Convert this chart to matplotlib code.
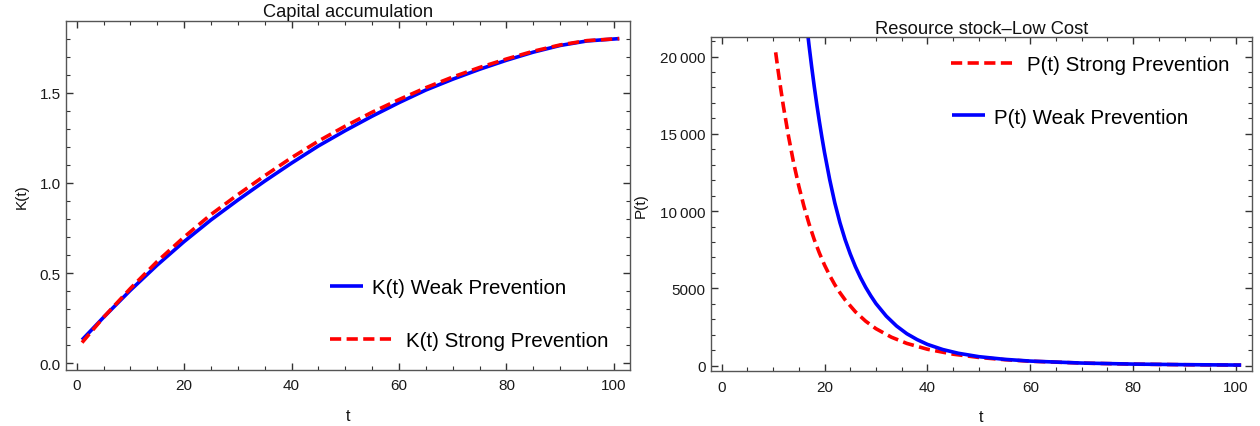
import matplotlib
matplotlib.use("Agg")
import matplotlib.pyplot as plt
from matplotlib.ticker import MultipleLocator, FixedLocator, FixedFormatter

plt.rcParams['font.family'] = ['Liberation Sans', 'DejaVu Sans']

# ---------------- data ----------------
t_capital = [1, 5, 10, 15, 20, 25, 30, 35, 40, 45, 50, 55, 60, 65, 70, 75, 80, 85, 90, 95, 101]
k_weak = [0.13, 0.255, 0.405, 0.545, 0.675, 0.795, 0.905, 1.01, 1.11, 1.205, 1.29, 1.37,
          1.445, 1.515, 1.575, 1.63, 1.68, 1.725, 1.762, 1.787, 1.80]
k_strong = [0.115, 0.255, 0.415, 0.565, 0.70, 0.825, 0.935, 1.04, 1.14, 1.232, 1.315, 1.392,
            1.462, 1.528, 1.587, 1.64, 1.687, 1.73, 1.765, 1.789, 1.80]

t_strong = [10.5, 11, 11.5, 12, 13, 14, 15, 16, 17, 18, 19, 20, 21, 22, 23, 24, 26, 28, 30,
            33, 36, 40, 45, 50, 55, 60, 70, 80, 90, 101]
p_strong = [20270, 19040, 17890, 16790, 14840, 13110, 11620, 10310, 9170, 8160, 7290, 6510,
            5840, 5240, 4720, 4260, 3490, 2880, 2395, 1845, 1443, 1065, 746, 534, 390, 290,
            169, 102, 64, 39]

t_weak = [16, 16.5, 17, 17.5, 18, 18.5, 19, 19.5, 20, 21, 22, 23, 24, 25, 26, 27, 28, 29, 30,
          32, 34, 36, 38, 40, 43, 46, 50, 55, 60, 70, 80, 90, 101]
p_weak = [23700, 22150, 20690, 19340, 18070, 16890, 15790, 14760, 13790, 12050, 10530, 9250,
          8160, 7230, 6410, 5700, 5070, 4520, 4020, 3210, 2570, 2070, 1690, 1380, 1045, 805,
          585, 412, 299, 172, 105, 67, 42]

x_ticks = [0, 20, 40, 60, 80, 100]
k_ticks = [0.0, 0.5, 1.0, 1.5]
k_tick_labels = ["0.0", "0.5", "1.0", "1.5"]
p_ticks = [0, 5000, 10000, 15000, 20000]
p_tick_labels = ["0", "5000", "10\u2009000", "15\u2009000", "20\u2009000"]

# ---------------- style ----------------
BLUE = "#0000FF"
RED = "#FF0000"
LW = 2.6
DASH = (3.1, 1.5)
SPINE = "#555555"
LEG_FS = 14.8

fig = plt.figure(figsize=(12.6, 4.27), dpi=100)
ax1 = fig.add_axes([0.0521, 0.1311, 0.4479, 0.8167])
ax2 = fig.add_axes([0.564, 0.1281, 0.4294, 0.7822])


def style_axes(ax):
    for s in ax.spines.values():
        s.set_color(SPINE)
        s.set_linewidth(1.0)
    ax.tick_params(which='both', direction='in', top=True, right=True, colors='#333333',
                   labelsize=11, labelcolor='#1a1a1a')
    ax.tick_params(which='major', length=5, width=1.0)
    ax.tick_params(which='minor', length=3, width=0.8)
    ax.tick_params(axis='x', which='major', pad=6)
    ax.tick_params(axis='y', which='major', pad=3.5)
    ax.xaxis.set_major_locator(FixedLocator(x_ticks))
    ax.xaxis.set_minor_locator(MultipleLocator(5))


# ---------- left panel ----------
l_weak, = ax1.plot(t_capital, k_weak, color=BLUE, lw=LW, solid_capstyle='butt')
l_strong, = ax1.plot(t_capital, k_strong, color=RED, lw=LW, dashes=DASH, dash_capstyle='butt')
ax1.set_xlim(-2.05, 103.0)
ax1.set_ylim(-0.037, 1.896)
style_axes(ax1)
ax1.yaxis.set_major_locator(FixedLocator(k_ticks))
ax1.yaxis.set_major_formatter(FixedFormatter(k_tick_labels))
ax1.yaxis.set_minor_locator(MultipleLocator(0.1))
ax1.set_title("Capital accumulation", fontsize=13.2, pad=4, color='#111111')
ax1.set_xlabel("t", fontsize=11.5, labelpad=11, color='#111111')
ax1.set_ylabel("K(t)", fontsize=11, labelpad=8, color='#111111')

leg_a = ax1.legend([l_weak], ["K(t) Weak Prevention"], loc='center left',
                   bbox_to_anchor=(330 / 1260, 1 - 289 / 427), bbox_transform=fig.transFigure,
                   frameon=False, fontsize=LEG_FS, handlelength=1.6, handletextpad=0.45,
                   borderpad=0, borderaxespad=0)
ax1.add_artist(leg_a)
ax1.legend([l_strong], ["K(t) Strong Prevention"], loc='center left',
           bbox_to_anchor=(330 / 1260, 1 - 342 / 427), bbox_transform=fig.transFigure,
           frameon=False, fontsize=LEG_FS, handlelength=3.2, handletextpad=0.5,
           borderpad=0, borderaxespad=0)

# ---------- right panel ----------
r_strong, = ax2.plot(t_strong, p_strong, color=RED, lw=LW, dashes=DASH, dash_capstyle='butt')
r_weak, = ax2.plot(t_weak, p_weak, color=BLUE, lw=LW, solid_capstyle='butt')
ax2.set_xlim(-2.14, 103.05)
ax2.set_ylim(-362, 21242)
style_axes(ax2)
ax2.yaxis.set_major_locator(FixedLocator(p_ticks))
ax2.yaxis.set_major_formatter(FixedFormatter(p_tick_labels))
ax2.yaxis.set_minor_locator(MultipleLocator(1000))
ax2.set_title("Resource stock\u2013Low Cost", fontsize=13.2, pad=2.5, color='#111111')
ax2.set_xlabel("t", fontsize=11.5, labelpad=11, color='#111111')
ax2.set_ylabel("P(t)", fontsize=11, labelpad=9, color='#111111')

leg_b = ax2.legend([r_strong], ["P(t) Strong Prevention"], loc='center left',
                   bbox_to_anchor=(951 / 1260, 1 - 66 / 427), bbox_transform=fig.transFigure,
                   frameon=False, fontsize=LEG_FS, handlelength=3.2, handletextpad=0.5,
                   borderpad=0, borderaxespad=0)
ax2.add_artist(leg_b)
ax2.legend([r_weak], ["P(t) Weak Prevention"], loc='center left',
           bbox_to_anchor=(952 / 1260, 1 - 118 / 427), bbox_transform=fig.transFigure,
           frameon=False, fontsize=LEG_FS, handlelength=1.6, handletextpad=0.45,
           borderpad=0, borderaxespad=0)

fig.savefig("out.png", dpi=100, facecolor='white')
